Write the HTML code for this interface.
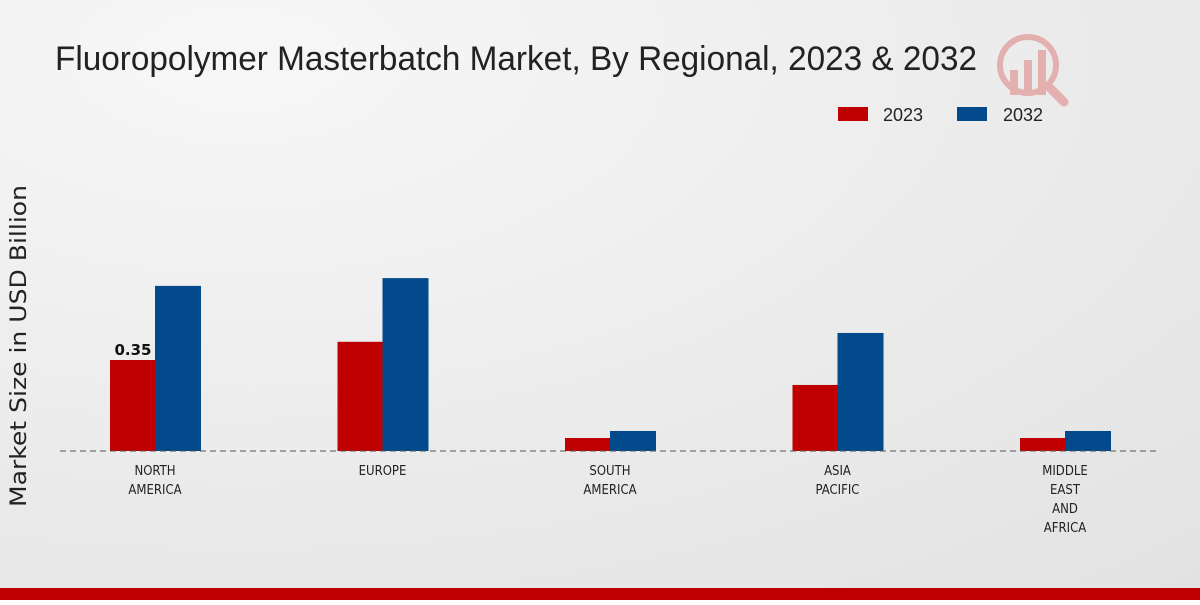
<!DOCTYPE html>
<html><head><meta charset="utf-8"><style>
body{margin:0;width:1200px;height:600px;overflow:hidden;font-family:"Liberation Sans",sans-serif}
</style></head><body>
<svg width="1200" height="600">
<defs><radialGradient id="bg" cx="0.2" cy="0.1" r="1.2"><stop offset="0" stop-color="#f7f7f7"/><stop offset="1" stop-color="#e2e2e2"/></radialGradient></defs>
<rect width="1200" height="600" fill="url(#bg)"/>
<text x="55" y="70" font-size="34" textLength="922" lengthAdjust="spacingAndGlyphs" fill="#222">Fluoropolymer Masterbatch Market, By Regional, 2023 &amp; 2032</text>
<g opacity="0.25" fill="#c00">
<circle cx="1028" cy="65" r="28" fill="none" stroke="#c00" stroke-width="6"/>
<rect x="1010" y="70" width="8" height="25"/><rect x="1024" y="60" width="8" height="35"/><rect x="1038" y="50" width="8" height="45"/>
<line x1="1050" y1="88" x2="1064" y2="102" stroke="#c00" stroke-width="9" stroke-linecap="round"/>
</g>
<g>
<rect x="838" y="107" width="30" height="14" fill="#c00000"/>
<text x="883" y="121" font-size="18" fill="#222">2023</text>
<rect x="957" y="107" width="30" height="14" fill="#034a8c"/>
<text x="1003" y="121" font-size="18" fill="#222">2032</text>
</g>
<text transform="translate(26,346) rotate(-90)" text-anchor="middle" font-size="22" font-family="DejaVu Sans, sans-serif" textLength="322" lengthAdjust="spacingAndGlyphs" fill="#222">Market Size in USD Billion</text>
<g id="plot"></g>
<line x1="60" y1="451" x2="1160" y2="451" stroke="#555" stroke-dasharray="6,4"/>
<rect x="0" y="588" width="1200" height="12" fill="#c00000"/>
</svg>
<script>
const categories=[["NORTH","AMERICA"],["EUROPE"],["SOUTH","AMERICA"],["ASIA","PACIFIC"],["MIDDLE","EAST","AND","AFRICA"]];
const values2023=[0.35,0.42,0.05,0.254,0.05];
const values2032=[0.635,0.665,0.077,0.454,0.077];
const labels2023=["0.35",null,null,null,null];
const NS="http://www.w3.org/2000/svg";
const g=document.getElementById('plot');
const base=451,scale=260;
const xC=i=>155+i*227.5;
const yS=v=>base-v*scale;
function mk(t,a){const e=document.createElementNS(NS,t);for(const k in a)e.setAttribute(k,a[k]);g.appendChild(e);return e;}
categories.forEach((c,i)=>{
 const r=mk('rect',{x:xC(i)-45,y:yS(values2023[i]),width:45,height:base-yS(values2023[i]),fill:'#c00000'});
 
 
 const b=mk('rect',{x:xC(i),y:yS(values2032[i]),width:46,height:base-yS(values2032[i]),fill:'#034a8c'});
 
 
 if(labels2023[i]){const t=mk('text',{x:xC(i)-22,y:yS(values2023[i])-5,'text-anchor':'middle','font-size':15,'font-weight':'bold','font-family':'DejaVu Sans, sans-serif',fill:'#111'});t.textContent=labels2023[i];
 
 }
 c.forEach((l,j)=>{const t=mk('text',{x:xC(i),y:475+j*19,'text-anchor':'middle','font-size':13,'font-family':'DejaVu Sans Condensed, DejaVu Sans, sans-serif',fill:'#222'});t.textContent=l;
 
 });
});
</script>
</body></html>
